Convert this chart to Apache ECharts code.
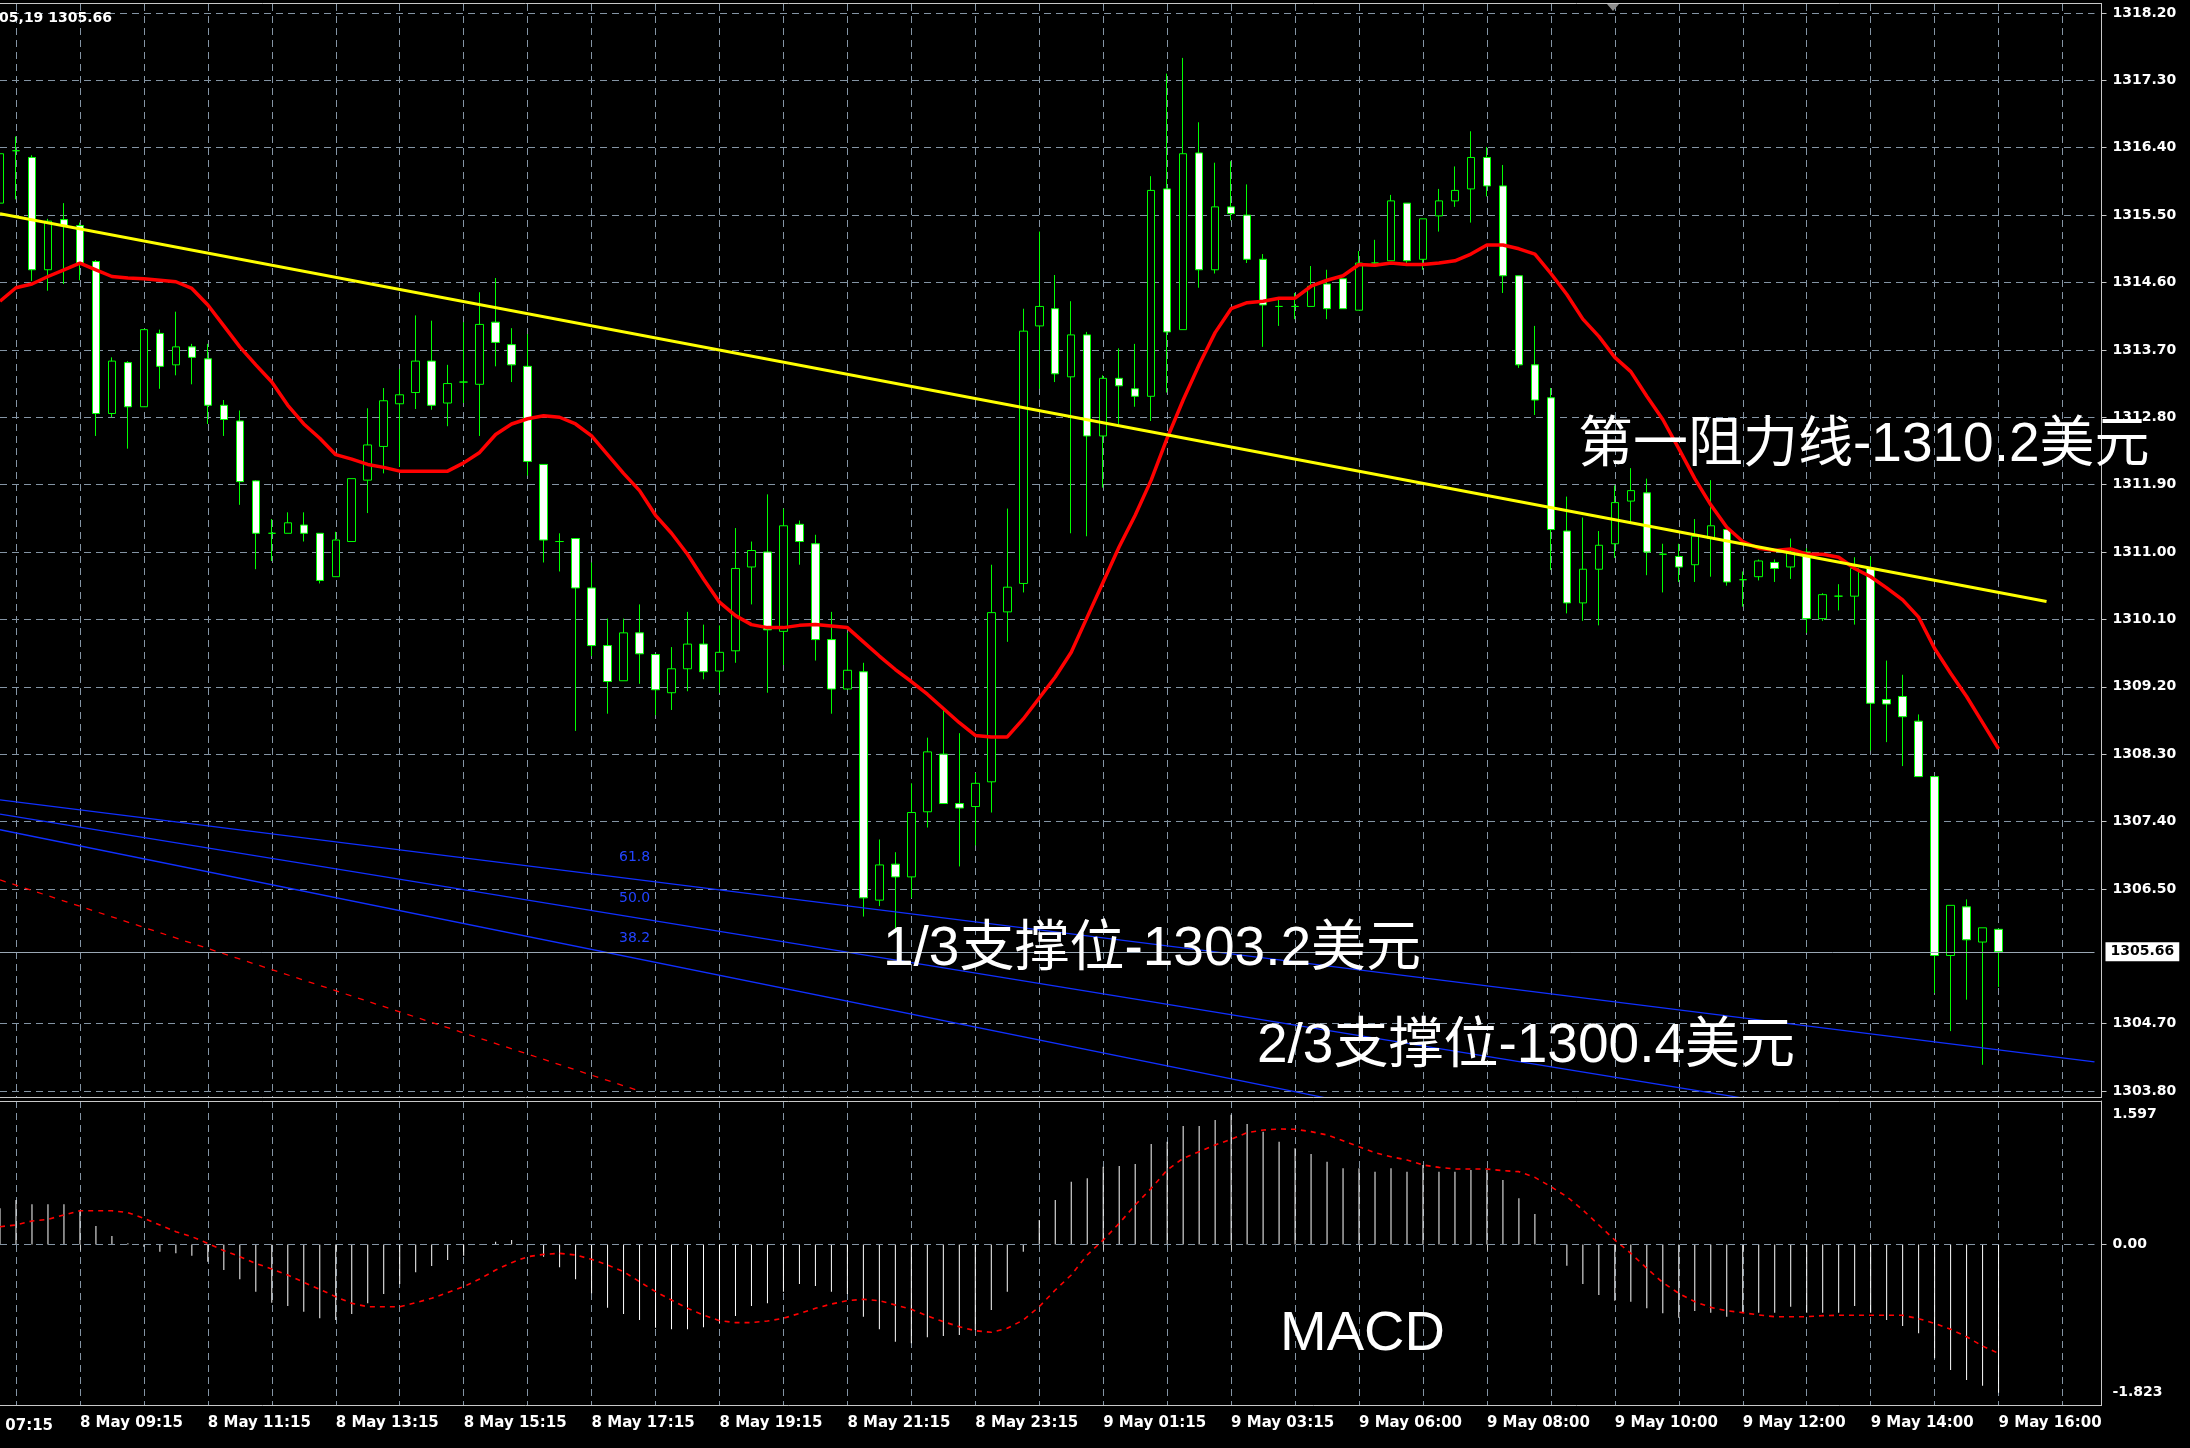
<!DOCTYPE html>
<html><head><meta charset="utf-8">
<script src="https://cdn.jsdelivr.net/npm/echarts@6/dist/echarts.min.js"></script>
<style>html,body{margin:0;padding:0;background:#000;}#c{width:2190px;height:1448px;}</style>
</head><body><div id="c"></div>
<script>
// ---------- DATA (k = -1 .. 124, 15-minute candles) ----------
const open = [
1315.66,1316.36,1316.27,1314.77,1315.44,1315.36,1314.88,1312.85,1313.53,1312.94,
1313.92,1313.50,1313.74,1313.58,1312.96,1312.75,1311.95,1311.25,1311.25,1311.36,
1311.25,1310.67,1311.14,1311.96,1312.41,1312.98,1313.13,1313.55,1312.99,1313.27,
1313.24,1314.07,1313.77,1313.48,1312.17,1311.14,1311.18,1310.52,1309.75,1309.28,
1309.92,1309.63,1309.12,1309.44,1309.77,1309.41,1309.68,1310.80,1311.00,1309.94,
1311.37,1311.11,1309.83,1309.17,1309.40,1306.35,1306.83,1306.66,1307.53,1308.30,
1307.64,1307.60,1307.93,1310.20,1310.58,1314.02,1314.25,1313.34,1313.90,1312.55,
1313.32,1313.18,1313.08,1315.85,1313.97,1316.33,1314.77,1315.61,1315.50,1314.91,
1314.28,1314.28,1314.28,1314.58,1314.65,1314.23,1314.86,1314.89,1315.66,1314.91,
1315.49,1315.69,1315.85,1316.27,1315.89,1314.69,1313.50,1313.06,1311.28,1310.32,
1310.77,1311.11,1311.68,1311.79,1310.97,1310.94,1310.83,1311.18,1311.30,1310.63,
1310.67,1310.86,1310.80,1311.00,1310.11,1310.41,1310.41,1310.78,1309.03,1309.07,
1308.74,1308.00,1305.61,1306.26,1305.79,1305.96];
const high = [
1316.83,1316.55,1316.30,1315.45,1315.66,1315.40,1314.90,1313.60,1313.55,1313.97,
1313.97,1314.21,1313.78,1313.78,1313.03,1312.89,1311.96,1311.44,1311.53,1311.53,
1311.25,1311.27,1311.98,1312.92,1313.19,1313.44,1314.16,1314.09,1313.50,1314.07,
1314.47,1314.66,1313.99,1313.91,1312.17,1311.25,1311.18,1310.86,1310.11,1310.11,
1310.30,1309.63,1309.73,1310.20,1310.03,1310.02,1311.32,1311.14,1311.77,1311.58,
1311.42,1311.23,1310.20,1309.92,1309.52,1307.16,1306.99,1307.91,1308.52,1308.91,
1308.58,1308.05,1310.83,1311.58,1314.25,1315.28,1314.70,1314.35,1313.94,1313.36,
1313.72,1313.78,1316.02,1317.39,1317.60,1316.74,1316.20,1316.22,1315.91,1314.98,
1314.39,1314.46,1314.82,1314.77,1314.65,1315.02,1315.17,1315.77,1315.66,1315.45,
1315.85,1316.15,1316.62,1316.41,1316.17,1314.69,1314.02,1313.19,1311.74,1311.46,
1311.28,1311.89,1312.12,1311.98,1311.11,1311.11,1311.44,1311.96,1311.35,1310.74,
1310.90,1310.90,1311.18,1311.05,1310.45,1310.57,1310.93,1310.94,1309.55,1309.36,
1308.83,1308.00,1306.28,1306.36,1305.98,1305.96];
const low = [
1315.50,1315.71,1314.62,1314.49,1314.58,1314.63,1312.55,1312.80,1312.38,1312.94,
1313.18,1313.36,1313.24,1312.71,1312.55,1311.63,1310.77,1310.88,1311.25,1311.14,
1310.58,1310.67,1311.14,1311.52,1312.05,1312.14,1312.91,1312.90,1312.68,1312.99,
1312.55,1313.48,1313.27,1312.02,1310.86,1310.74,1308.61,1309.61,1308.84,1309.28,
1309.24,1308.82,1308.89,1309.14,1309.30,1309.12,1309.52,1310.30,1309.12,1309.49,
1310.83,1309.55,1308.84,1309.17,1306.13,1306.27,1305.91,1306.38,1307.32,1307.64,
1306.80,1307.08,1307.52,1309.80,1310.46,1313.18,1313.27,1311.25,1311.21,1311.86,
1312.71,1312.94,1312.75,1313.13,1313.97,1314.53,1314.72,1315.43,1314.86,1313.74,
1314.02,1314.11,1314.28,1314.11,1314.25,1314.23,1314.83,1314.89,1314.82,1314.77,
1315.28,1315.61,1315.40,1315.75,1314.46,1313.46,1312.83,1310.76,1310.18,1310.08,
1310.02,1310.92,1311.39,1310.69,1310.46,1310.60,1310.60,1310.67,1310.55,1310.27,
1310.62,1310.60,1310.64,1309.92,1310.08,1310.22,1310.03,1308.35,1308.46,1308.14,
1308.00,1305.11,1304.60,1305.02,1304.15,1305.19];
const close = [
1316.32,1316.36,1314.77,1315.42,1315.36,1314.86,1312.85,1313.55,1312.94,1313.97,
1313.48,1313.74,1313.60,1312.96,1312.77,1311.94,1311.25,1311.25,1311.39,1311.25,
1310.62,1311.16,1311.98,1312.43,1313.02,1313.10,1313.55,1312.96,1313.25,1313.27,
1314.04,1313.80,1313.50,1312.21,1311.16,1311.14,1310.52,1309.75,1309.27,1309.92,
1309.64,1309.16,1309.44,1309.77,1309.40,1309.66,1310.78,1311.02,1309.96,1311.35,
1311.14,1309.83,1309.17,1309.42,1306.38,1306.82,1306.66,1307.52,1308.33,1307.64,
1307.58,1307.91,1310.19,1310.53,1313.95,1314.28,1313.38,1313.90,1312.55,1313.32,
1313.22,1313.08,1315.83,1313.94,1316.32,1314.77,1315.61,1315.52,1314.91,1314.30,
1314.28,1314.28,1314.55,1314.25,1314.25,1314.86,1314.86,1315.69,1314.89,1315.45,
1315.69,1315.83,1316.27,1315.89,1314.69,1313.50,1313.03,1311.30,1310.32,1310.77,
1311.09,1311.66,1311.82,1311.00,1310.97,1310.80,1311.21,1311.35,1310.60,1310.63,
1310.88,1310.78,1311.00,1310.11,1310.43,1310.41,1310.78,1308.98,1308.97,1308.80,
1308.00,1305.61,1306.28,1305.82,1305.98,1305.66];
const movingAverage = [
1314.35,1314.53,1314.58,1314.68,1314.77,1314.86,1314.77,1314.68,1314.66,1314.65,
1314.63,1314.61,1314.52,1314.30,1314.02,1313.74,1313.50,1313.27,1312.96,1312.71,
1312.52,1312.30,1312.24,1312.17,1312.13,1312.08,1312.08,1312.08,1312.08,1312.19,
1312.33,1312.57,1312.71,1312.78,1312.82,1312.80,1312.71,1312.55,1312.30,1312.05,
1311.82,1311.49,1311.25,1310.97,1310.64,1310.33,1310.15,1310.03,1309.99,1309.99,
1310.02,1310.03,1310.01,1309.99,1309.80,1309.61,1309.43,1309.27,1309.10,1308.91,
1308.72,1308.55,1308.53,1308.53,1308.77,1309.05,1309.33,1309.66,1310.13,1310.60,
1311.07,1311.49,1311.96,1312.52,1313.03,1313.50,1313.93,1314.25,1314.33,1314.35,
1314.39,1314.39,1314.55,1314.63,1314.69,1314.84,1314.83,1314.86,1314.84,1314.84,
1314.86,1314.89,1314.98,1315.10,1315.10,1315.05,1314.98,1314.72,1314.44,1314.11,
1313.88,1313.60,1313.41,1313.08,1312.77,1312.38,1311.98,1311.63,1311.33,1311.14,
1311.05,1311.02,1311.04,1310.97,1310.97,1310.93,1310.78,1310.67,1310.52,1310.36,
1310.13,1309.71,1309.38,1309.07,1308.72,1308.37];
const macdHist = [
0.445,0.547,0.494,0.494,0.494,0.416,0.228,0.105,0.014,-0.027,
-0.088,-0.109,-0.137,-0.211,-0.314,-0.428,-0.580,-0.715,-0.756,-0.826,
-0.908,-0.929,-0.855,-0.724,-0.609,-0.486,-0.342,-0.264,-0.191,-0.137,
0.006,0.035,0.055,-0.010,-0.150,-0.281,-0.428,-0.601,-0.777,-0.855,
-0.929,-1.023,-1.043,-1.043,-1.019,-0.961,-0.879,-0.756,-0.724,-0.580,
-0.486,-0.510,-0.580,-0.609,-0.888,-1.043,-1.195,-1.216,-1.142,-1.125,
-1.113,-1.052,-0.806,-0.580,-0.088,0.301,0.547,0.773,0.814,0.957,
0.966,0.990,1.236,1.265,1.458,1.458,1.531,1.597,1.482,1.388,
1.265,1.183,1.113,1.019,0.937,0.937,0.896,0.937,0.896,0.978,
0.896,0.896,0.916,0.916,0.793,0.568,0.375,0.006,-0.260,-0.486,
-0.621,-0.691,-0.703,-0.785,-0.847,-0.900,-0.818,-0.838,-0.888,-0.838,
-0.838,-0.838,-0.765,-0.838,-0.838,-0.838,-0.756,-0.838,-0.929,-1.002,
-1.093,-1.400,-1.544,-1.667,-1.736,-1.823];
const macdSignal = [
0.219,0.240,0.289,0.310,0.363,0.416,0.416,0.416,0.392,0.322,
0.240,0.158,0.096,0.014,-0.076,-0.150,-0.232,-0.301,-0.375,-0.465,
-0.551,-0.642,-0.724,-0.765,-0.765,-0.765,-0.715,-0.662,-0.592,-0.519,
-0.424,-0.314,-0.223,-0.150,-0.121,-0.109,-0.129,-0.182,-0.252,-0.334,
-0.457,-0.580,-0.683,-0.785,-0.867,-0.937,-0.961,-0.961,-0.941,-0.908,
-0.847,-0.785,-0.732,-0.691,-0.674,-0.691,-0.744,-0.797,-0.879,-0.949,
-1.011,-1.060,-1.080,-1.031,-0.929,-0.765,-0.560,-0.375,-0.129,0.055,
0.260,0.486,0.691,0.916,1.060,1.142,1.224,1.294,1.376,1.408,
1.421,1.417,1.388,1.347,1.277,1.203,1.130,1.080,1.039,0.978,
0.949,0.929,0.929,0.929,0.908,0.896,0.826,0.711,0.588,0.424,
0.240,0.055,-0.109,-0.293,-0.469,-0.601,-0.703,-0.773,-0.814,-0.838,
-0.867,-0.888,-0.888,-0.888,-0.875,-0.871,-0.871,-0.871,-0.871,-0.871,
-0.912,-0.970,-1.043,-1.134,-1.249,-1.339];
// drawn objects: [category index, price]
const resistanceLine = [[0, 1315.52], [128, 1310.34]];
const fanLine618 = [[0, 1307.69], [131, 1304.19]];
const fanLine500 = [[0, 1307.50], [131, 1302.94]];
const fanLine382 = [[0, 1307.29], [131, 1301.63]];
const redDashLine = [[0, 1306.62], [40, 1303.80]];
const lastPrice = 1305.66;
const priceTicks = [1303.80,1304.70,1306.50,1307.40,1308.30,1309.20,1310.10,1311.00,1311.90,1312.80,1313.70,1314.60,1315.50,1316.40,1317.30,1318.20];
const macdTicks = [-1.823, 0, 1.597];
const timeTickLabels = ['8 May 09:15','8 May 11:15','8 May 13:15','8 May 15:15','8 May 17:15','8 May 19:15','8 May 21:15','8 May 23:15',
  '9 May 01:15','9 May 03:15','9 May 06:00','9 May 08:00','9 May 10:00','9 May 12:00','9 May 14:00','9 May 16:00'];
const NCAT = 132;             // k = -1 .. 130 (last 6 empty)
const FIRST_TICK = 5;         // category index of '8 May 09:15'
const TICK_EVERY = 8;

// categories: one per 15-minute bar (bars 05:00–05:30 on 9 May are missing)
const categories = [];
(function(){
  let day = 8, min = 8*60;
  const p = n => (n < 10 ? '0' : '') + n;
  for (let i = 0; i < NCAT; i++) {
    categories.push(day + ' May ' + p(Math.floor(min/60)) + ':' + p(min%60) + '#' + i);
    min += 15;
    if (day === 9 && min === 300) min = 345;
    if (min >= 1440) { min -= 1440; day++; }
  }
})();
const candles = open.map((o, i) => [o, close[i], low[i], high[i]]);

// ---------- CHART ----------
const STEP = 16, LEFT = -1.5, PLOT_W = STEP*(NCAT-1);
const gridColor = '#8494a4', frameColor = '#c8c8c8';
const axisFont = 'DejaVu Sans';
const isGridIdx = i => (i - 1) % 4 === 0;
const isLabelIdx = i => i >= FIRST_TICK && (i - FIRST_TICK) % TICK_EVERY === 0;
const dashed = {color: gridColor, type: [7, 5], width: 1};
const cnFont = '55px "Liberation Sans", "Noto Sans CJK SC"';

const chart = echarts.init(document.getElementById('c'), null, {renderer: 'canvas'});
const option = {
  backgroundColor: '#000000',
  animation: false,
  grid: [
    {left: LEFT, top: 4, width: PLOT_W, height: 1093},
    {left: LEFT, top: 1101, width: PLOT_W, height: 304}
  ],
  xAxis: [
    {type: 'category', gridIndex: 0, data: categories, boundaryGap: false,
     axisLine: {show: false}, axisTick: {show: false}, axisLabel: {show: false},
     splitLine: {show: true, interval: (i) => isGridIdx(i), lineStyle: dashed}},
    {type: 'category', gridIndex: 1, data: categories, boundaryGap: false,
     axisLine: {show: false},
     axisTick: {show: true, interval: (i) => isLabelIdx(i), length: 6, lineStyle: {color: frameColor}},
     axisLabel: {show: true, interval: (i) => isLabelIdx(i), align: 'left', color: '#ffffff',
       fontFamily: axisFont, fontWeight: 'bold', fontSize: 15, margin: 11,
       formatter: (v) => timeTickLabels[(categories.indexOf(v) - FIRST_TICK) / TICK_EVERY] || ''},
     splitLine: {show: true, interval: (i) => isGridIdx(i), lineStyle: dashed}}
  ],
  yAxis: [
    {type: 'value', gridIndex: 0, position: 'right', offset: 7, min: 1303.72, max: 1318.32,
     axisLine: {show: true, lineStyle: {color: frameColor}},
     axisTick: {show: true, customValues: priceTicks, length: 5, lineStyle: {color: frameColor}},
     axisLabel: {customValues: priceTicks, formatter: v => v.toFixed(2), color: '#ffffff',
       fontFamily: axisFont, fontWeight: 'bold', fontSize: 14, margin: 11},
     splitLine: {show: true, lineStyle: dashed}},
    {type: 'value', gridIndex: 1, position: 'right', offset: 7, min: -1.974, max: 1.765,
     axisLine: {show: true, lineStyle: {color: frameColor}},
     axisTick: {show: true, customValues: [0], length: 5, lineStyle: {color: frameColor}},
     axisLabel: {customValues: macdTicks, formatter: v => (v === 0 ? '0.00' : v.toFixed(3)), color: '#ffffff',
       fontFamily: axisFont, fontWeight: 'bold', fontSize: 14, margin: 11},
     splitLine: {show: false}}
  ],
  series: [
    {type: 'candlestick', name: 'XAUUSD', xAxisIndex: 0, yAxisIndex: 0, data: candles, barWidth: 8, z: 2,
     itemStyle: {color: '#000000', color0: '#ffffff', borderColor: '#00ff00', borderColor0: '#00ff00',
       borderColorDoji: '#00ff00', borderWidth: 1},
     markLine: {silent: true, symbol: 'none', animation: false,
       lineStyle: {color: '#9aa7b4', type: 'solid', width: 1},
       label: {show: true, position: 'end', distance: 11, formatter: lastPrice.toFixed(2),
         backgroundColor: '#ffffff', color: '#000000', padding: [3, 5, 2, 5], fontFamily: axisFont, fontWeight: 'bold', fontSize: 14},
       data: [{yAxis: lastPrice}]}},
    {type: 'line', name: 'MA', xAxisIndex: 0, yAxisIndex: 0, data: movingAverage, symbol: 'none', z: 4,
     lineStyle: {color: '#ff0000', width: 3.5}},
    {type: 'line', name: 'resistance', xAxisIndex: 0, yAxisIndex: 0, data: resistanceLine, symbol: 'none', z: 5,
     lineStyle: {color: '#ffff00', width: 3}},
    {type: 'line', name: 'fan61.8', xAxisIndex: 0, yAxisIndex: 0, data: fanLine618, symbol: 'none', z: 3,
     lineStyle: {color: '#1030ff', width: 1.3}},
    {type: 'line', name: 'fan50.0', xAxisIndex: 0, yAxisIndex: 0, data: fanLine500, symbol: 'none', z: 3,
     lineStyle: {color: '#1030ff', width: 1.3}},
    {type: 'line', name: 'fan38.2', xAxisIndex: 0, yAxisIndex: 0, data: fanLine382, symbol: 'none', z: 3,
     lineStyle: {color: '#1030ff', width: 1.3}},
    {type: 'line', name: 'redDash', xAxisIndex: 0, yAxisIndex: 0, data: redDashLine, symbol: 'none', z: 3,
     lineStyle: {color: '#ff0000', width: 1.3, type: [6, 7]}},
    {type: 'bar', name: 'MACD', xAxisIndex: 1, yAxisIndex: 1, data: macdHist, barWidth: 1, z: 2,
     itemStyle: {color: '#ffffff'},
     markLine: {silent: true, symbol: 'none', animation: false, label: {show: false},
       lineStyle: {color: gridColor, type: [7, 5], width: 1}, data: [{yAxis: 0}]}},
    {type: 'line', name: 'Signal', xAxisIndex: 1, yAxisIndex: 1, data: macdSignal, symbol: 'none', z: 3,
     lineStyle: {color: '#ff0000', width: 1.6, type: [5, 5]}}
  ],
  graphic: {elements: [
    {type: 'line', z: 50, shape: {x1: 0, y1: 3.5, x2: 2102, y2: 3.5}, style: {stroke: frameColor, lineWidth: 1}},
    {type: 'line', z: 50, shape: {x1: 0, y1: 1097.5, x2: 2102, y2: 1097.5}, style: {stroke: frameColor, lineWidth: 1}},
    {type: 'line', z: 50, shape: {x1: 0, y1: 1101.5, x2: 2102, y2: 1101.5}, style: {stroke: frameColor, lineWidth: 1}},
    {type: 'line', z: 50, shape: {x1: 0, y1: 1405.5, x2: 2102, y2: 1405.5}, style: {stroke: frameColor, lineWidth: 1}},
    {type: 'polygon', z: 50, shape: {points: [[1607, 4], [1619, 4], [1613, 11]]}, style: {fill: '#8c8c8c'}},
    {type: 'text', z: 60, x: 112, y: 18, style: {text: '1305,19 1305.66', fill: '#ffffff', font: 'bold 14px "DejaVu Sans"', align: 'right', verticalAlign: 'middle'}},
    {type: 'text', z: 60, x: 53, y: 1426, style: {text: '8 May 07:15', fill: '#ffffff', font: 'bold 15px "DejaVu Sans"', align: 'right', verticalAlign: 'middle'}},
    {type: 'text', z: 60, x: 619, y: 857, style: {text: '61.8', fill: '#2244ff', font: '14px "DejaVu Sans"', align: 'left', verticalAlign: 'middle'}},
    {type: 'text', z: 60, x: 619, y: 898, style: {text: '50.0', fill: '#2244ff', font: '14px "DejaVu Sans"', align: 'left', verticalAlign: 'middle'}},
    {type: 'text', z: 60, x: 619, y: 938, style: {text: '38.2', fill: '#2244ff', font: '14px "DejaVu Sans"', align: 'left', verticalAlign: 'middle'}},
    {type: 'text', z: 60, x: 1578, y: 446, style: {text: '第一阻力线-1310.2美元', fill: '#ffffff', font: cnFont, align: 'left', verticalAlign: 'middle'}},
    {type: 'text', z: 60, x: 883, y: 950, style: {text: '1/3支撑位-1303.2美元', fill: '#ffffff', font: cnFont, align: 'left', verticalAlign: 'middle'}},
    {type: 'text', z: 60, x: 1257, y: 1047, style: {text: '2/3支撑位-1300.4美元', fill: '#ffffff', font: cnFont, align: 'left', verticalAlign: 'middle'}},
    {type: 'text', z: 60, x: 1280, y: 1335, style: {text: 'MACD', fill: '#ffffff', font: '56px "Liberation Sans"', align: 'left', verticalAlign: 'middle'}}
  ]}
};
chart.setOption(option);
</script></body></html>
